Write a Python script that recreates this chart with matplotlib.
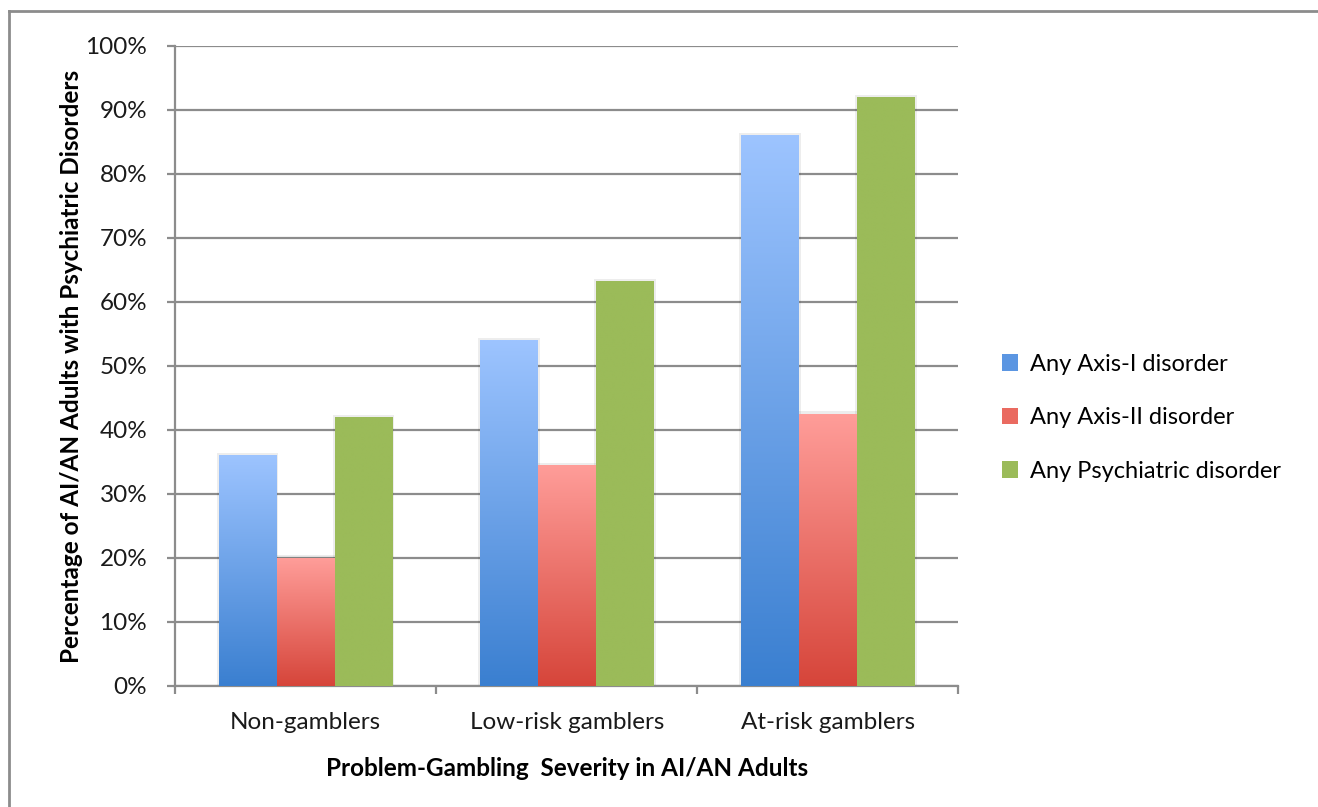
import numpy as np
import matplotlib.pyplot as plt
from matplotlib.colors import LinearSegmentedColormap
from matplotlib.patches import Patch
from matplotlib.lines import Line2D

plt.rcParams['font.family'] = ['Lato', 'DejaVu Sans']

groups = ['Non-gamblers', 'Low-risk gamblers', 'At-risk gamblers']
series = ['Any Axis-I disorder', 'Any Axis-II disorder', 'Any Psychiatric disorder']
axis1 = [36, 54, 86]
axis2 = [20, 34.5, 42.5]
psych = [42, 63.2, 92]
yticks = [0, 10, 20, 30, 40, 50, 60, 70, 80, 90, 100]

# top colour, bottom colour for each series
grads = [('#9dc4ff', '#3a7fd0'), ('#ff9d99', '#d6453a'), ('#9bbb59', '#9bbb59')]
legend_cols = ['#5b96e2', '#ea6a60', '#9bbb59']

fig = plt.figure(figsize=(13.18, 8.07), dpi=100)
ax = fig.add_axes([0.1328, 0.150, 0.7272 - 0.1328, 0.943 - 0.150])

bw = 0.222
for s, vals in enumerate([axis1, axis2, psych]):
    top, bot = grads[s]
    cmap = LinearSegmentedColormap.from_list('g%d' % s, [bot, top])
    for i, v in enumerate(vals):
        x0 = i + (s - 1.5) * bw
        grad = np.linspace(0, 1, 256).reshape(-1, 1)
        # soft shadow around the bar
        ax.bar(x0 + bw / 2, v + 0.4, width=bw + 0.014, bottom=0,
               color='#000000', alpha=0.07, zorder=2, linewidth=0)
        ax.imshow(grad, cmap=cmap, origin='lower', aspect='auto',
                  extent=(x0, x0 + bw, 0, v), zorder=3, interpolation='bilinear')

ax.set_xlim(-0.5, 2.5)
ax.set_ylim(0, 100)

ax.set_yticks(yticks)
ax.set_yticklabels(['%d%%' % t for t in yticks], fontsize=17.5, color='#1a1a1a')
ax.yaxis.grid(True, color='#8c8c8c', linewidth=1.6)
ax.set_axisbelow(True)

ax.set_xticks([0, 1, 2])
ax.set_xticklabels(groups, fontsize=17.5, color='#1a1a1a')
ax.set_xticks([-0.5, 0.5, 1.5, 2.5], minor=True)
ax.tick_params(axis='x', which='major', length=0, pad=19)
ax.tick_params(axis='x', which='minor', length=6, color='#8c8c8c', width=1.6)
ax.tick_params(axis='y', length=6, color='#8c8c8c', width=1.6, pad=14)

for sp in ['top', 'right']:
    ax.spines[sp].set_visible(False)
for sp in ['left', 'bottom']:
    ax.spines[sp].set_color('#8c8c8c')
    ax.spines[sp].set_linewidth(1.6)

ax.set_ylabel('Percentage of AI/AN Adults with Psychiatric Disorders',
              fontsize=17.5, fontweight='bold', labelpad=2)
ax.set_xlabel('Problem-Gambling  Severity in AI/AN Adults',
              fontsize=17.5, fontweight='bold', labelpad=17)

handles = [Patch(facecolor=c, edgecolor='none') for c in legend_cols]
fig.legend(handles, series, loc='upper left', bbox_to_anchor=(0.744, 0.588),
           frameon=False, fontsize=17, handlelength=0.7, handleheight=0.7,
           handletextpad=0.5, labelspacing=1.38)

# outer frame (top and left edges visible)
fig.add_artist(Line2D([0.0068, 1.0], [1 - 11 / 807, 1 - 11 / 807],
                      transform=fig.transFigure, color='#8c8c8c', linewidth=2))
fig.add_artist(Line2D([0.0068, 0.0068], [0.0, 1 - 11 / 807],
                      transform=fig.transFigure, color='#8c8c8c', linewidth=2))

fig.savefig('out.png', dpi=100)
